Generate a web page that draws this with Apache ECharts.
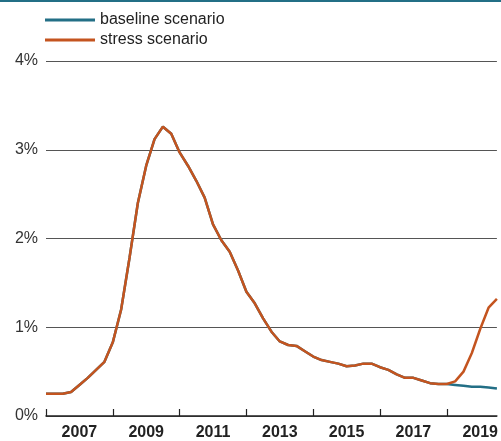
<!DOCTYPE html>
<html><head><meta charset="utf-8">
<script src="https://cdn.jsdelivr.net/npm/echarts@6/dist/echarts.min.js"></script>
<style>html,body{margin:0;padding:0;background:#fff}#c{width:501px;height:441px}</style>
</head><body><div id="c"></div>
<script>
// quarterly dates, 2006Q1 .. 2019Q3 (as decimal years)
const quarters = [];
for (let i = 0; i <= 54; i++) quarters.push(2006 + i * 0.25);
const baseline = [0.25,0.25,0.25,0.27,0.35,0.43,0.52,0.61,0.83,1.20,1.78,2.40,2.82,3.12,3.26,3.18,2.97,2.82,2.65,2.46,2.16,1.98,1.85,1.64,1.40,1.27,1.10,0.95,0.84,0.80,0.79,0.73,0.67,0.63,0.61,0.59,0.56,0.57,0.59,0.59,0.55,0.52,0.47,0.43,0.43,0.40,0.37,0.36,0.36,0.35,0.34,0.33,0.33,0.32,0.31];
const stress   = [0.25,0.25,0.25,0.27,0.35,0.43,0.52,0.61,0.83,1.20,1.78,2.40,2.82,3.12,3.26,3.18,2.97,2.82,2.65,2.46,2.16,1.98,1.85,1.64,1.40,1.27,1.10,0.95,0.84,0.80,0.79,0.73,0.67,0.63,0.61,0.59,0.56,0.57,0.59,0.59,0.55,0.52,0.47,0.43,0.43,0.40,0.37,0.36,0.36,0.39,0.50,0.71,0.98,1.22,1.32];
const yearLabels = [2007,2009,2011,2013,2015,2017,2019];
const yearTicks = [2006,2008,2010,2012,2014,2016,2018];
const seriesNames = ['baseline scenario','stress scenario'];

const TEAL = '#236f86', ORANGE = '#c4541f';
const chart = echarts.init(document.getElementById('c'), null, {renderer:'canvas'});
chart.setOption({
  animation:false,
  textStyle:{fontFamily:'Liberation Sans, Arial, sans-serif'},
  graphic:[{type:'rect', left:0, top:0, shape:{width:501, height:2}, style:{fill:TEAL}}],
  legend:{
    orient:'vertical', left:45, top:11, padding:0, itemWidth:50, itemHeight:3, itemGap:2,
    icon:'rect',
    textStyle:{fontSize:16, color:'#222', padding:[0,0,0,0], lineHeight:18},
    data:seriesNames
  },
  grid:{left:46, right:1, top:61, bottom:25, containLabel:false},
  xAxis:{
    type:'value', min:2006, max:2019.5,
    axisLine:{show:true, lineStyle:{color:'#222', width:1.5}},
    axisTick:{show:true, inside:true, length:7, customValues:yearTicks, lineStyle:{color:'#222', width:1.2}},
    axisLabel:{customValues:yearLabels, formatter:v=>String(v), fontWeight:'bold', fontSize:16, color:'#222', margin:9},
    splitLine:{show:false}
  },
  yAxis:{
    type:'value', min:0, max:4, interval:1,
    axisLine:{show:false}, axisTick:{show:false},
    axisLabel:{formatter:v=>v+'%', fontSize:16, color:'#333', margin:8},
    splitLine:{show:true, lineStyle:{color:'#555', width:1}}
  },
  series:[
    {name:seriesNames[0], type:'line', showSymbol:false, symbol:'none', lineStyle:{color:TEAL, width:2.5}, itemStyle:{color:TEAL},
     data:quarters.map((q,i)=>[q, baseline[i]])},
    {name:seriesNames[1], type:'line', showSymbol:false, symbol:'none', lineStyle:{color:ORANGE, width:2.5}, itemStyle:{color:ORANGE},
     data:quarters.map((q,i)=>[q, stress[i]])}
  ]
});
</script></body></html>
